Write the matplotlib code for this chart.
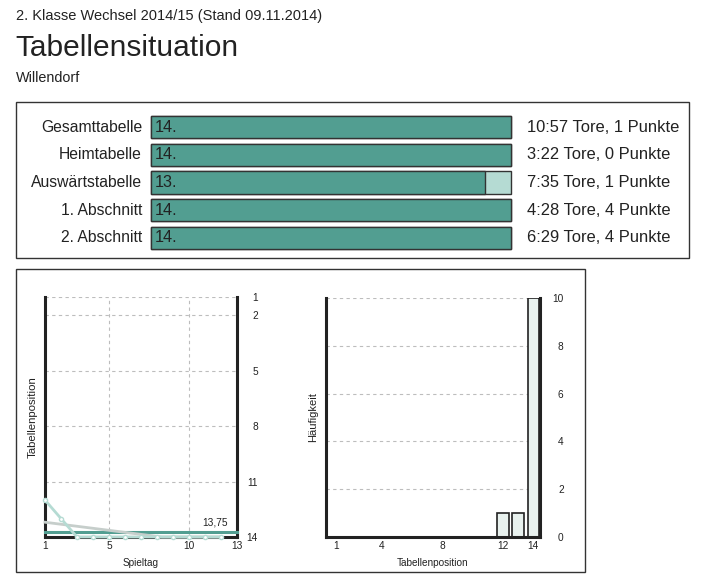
import matplotlib.pyplot as plt
from matplotlib.patches import Rectangle

plt.rcParams["font.family"] = ["Liberation Sans", "DejaVu Sans"]

# =====================================================
# DATA
# =====================================================

header = "2. Klasse Wechsel 2014/15 (Stand 09.11.2014)"
title = "Tabellensituation"
team = "Willendorf"

n_teams = 14
table_names = ["Gesamttabelle", "Heimtabelle", "Auswärtstabelle",
               "1. Abschnitt", "2. Abschnitt"]
table_ranks = [14, 14, 13, 14, 14]
table_goals = ["10:57", "3:22", "7:35", "4:28", "6:29"]
table_points = [1, 0, 1, 4, 4]

spieltage = [1, 2, 3, 4, 5, 6, 7, 8, 9, 10, 11, 12]
positions = [12, 13, 14, 14, 14, 14, 14, 14, 14, 14, 14, 14]
avg_position = 13.75
trend_days = [1, 8.3, 12]
trend_pos = [13.2, 14.0, 14.0]

hist_positions = [12, 13, 14]
hist_counts = [1, 1, 10]
hist_ticks = [1, 4, 8, 12, 14]

# =====================================================
# STYLE
# =====================================================

W, H = 704, 581
TEXT = "#222222"
DARK = "#529E91"
LIGHT = "#B5DBD3"
GREY = "#C6CECB"
GRID = "#BDBDBD"


def fx(px):
    return px / W


def fy(py):
    return 1 - py / H


fig = plt.figure(figsize=(W / 100, H / 100), dpi=100)

fig.text(fx(16), fy(20), header, fontsize=10.5, color=TEXT, va="baseline")
fig.text(fx(15), fy(56), title, fontsize=21.5, color=TEXT, va="baseline")
fig.text(fx(16), fy(82), team, fontsize=10.4, color=TEXT, va="baseline")

# frames
fig.add_artist(Rectangle((fx(16), fy(258)), fx(673), 156 / H,
                         transform=fig.transFigure, fill=False,
                         edgecolor="#333333", linewidth=1))
fig.add_artist(Rectangle((fx(16), fy(572)), fx(569), 303 / H,
                         transform=fig.transFigure, fill=False,
                         edgecolor="#333333", linewidth=1))

# =====================================================
# TABLE BARS
# =====================================================

row_h = 27.75
top = 127 - row_h / 2
axb = fig.add_axes([fx(151), fy(top + 5 * row_h), fx(360), 5 * row_h / H])
rows = list(range(len(table_names)))
back = axb.barh(rows, [n_teams] * len(rows), height=0.8, color=LIGHT,
                edgecolor="#333333", linewidth=1)
front = axb.barh(rows, table_ranks, height=0.8, color=DARK,
                 edgecolor="#333333", linewidth=1)
for patch in list(back) + list(front):
    patch.set_clip_on(False)
axb.set_xlim(0, n_teams)
axb.set_ylim(len(rows) - 0.5, -0.5)
axb.axis("off")

for i, name in enumerate(table_names):
    axb.text(-0.35, i, name, ha="right", va="center", fontsize=11.3,
             color=TEXT)
    axb.text(0.15, i, f"{table_ranks[i]}.", ha="left", va="center",
             fontsize=11.7, color=TEXT)
    axb.text(n_teams + 0.62, i,
             f"{table_goals[i]} Tore, {table_points[i]} Punkte",
             ha="left", va="center", fontsize=11.9, color=TEXT)

# =====================================================
# POSITION TIMELINE
# =====================================================

ax1 = fig.add_axes([fx(45), fy(537), fx(192), 240 / H])
ax1.set_xlim(1, 13)
ax1.set_ylim(14, 1)

for y in [1, 2, 5, 8, 11]:
    ax1.axhline(y, color=GRID, linewidth=0.8, dashes=(3, 3), zorder=0)
for x in [5, 10]:
    ax1.axvline(x, color=GRID, linewidth=0.8, dashes=(3, 3), zorder=0)

ax1.plot([1, 13], [avg_position, avg_position], color=DARK,
         linewidth=2.2, zorder=3, clip_on=False)
ax1.plot(trend_days, trend_pos, color=GREY, linewidth=2, zorder=4,
         clip_on=False)
ax1.plot(spieltage, positions, color=LIGHT, linewidth=2, marker="o",
         markersize=3, markerfacecolor="white", markeredgecolor=LIGHT,
         zorder=5, clip_on=False)
ax1.text(12.4, avg_position - 0.25, f"{avg_position:.2f}".replace(".", ","),
         ha="right", va="bottom", fontsize=7.3, color=TEXT)

ax1.set_xticks([1, 5, 10, 13])
ax1.set_yticks([1, 2, 5, 8, 11, 14])
ax1.yaxis.tick_right()
ax1.tick_params(axis="y", length=0, pad=15, labelsize=7.3, colors=TEXT)
ax1.tick_params(axis="x", length=0, pad=3, labelsize=7.3, colors=TEXT)
for lab in ax1.get_yticklabels():
    lab.set_horizontalalignment("right")
ax1.set_xlabel("Spieltag", fontsize=7.2, color=TEXT, labelpad=5)
ax1.set_ylabel("Tabellenposition", fontsize=8.2, color=TEXT, labelpad=5)
ax1.spines["top"].set_visible(False)
for side in ["left", "right", "bottom"]:
    ax1.spines[side].set_linewidth(2.2)
    ax1.spines[side].set_color(TEXT)

# =====================================================
# POSITION HISTOGRAM
# =====================================================

ax2 = fig.add_axes([fx(326), fy(537), fx(214), 239 / H])
ax2.set_xlim(0.34, 14.44)
ax2.set_ylim(0, 10)
for y in [2, 4, 6, 8, 10]:
    ax2.axhline(y, color=GRID, linewidth=0.8, dashes=(3, 3), zorder=0)
ax2.bar(hist_positions, hist_counts, width=0.76, color="#E8F1EE",
        edgecolor=TEXT, linewidth=1.2, zorder=2)

ax2.set_xticks(hist_ticks)
ax2.set_yticks([0, 2, 4, 6, 8, 10])
ax2.yaxis.tick_right()
ax2.tick_params(axis="y", length=0, pad=17, labelsize=7.3, colors=TEXT)
ax2.tick_params(axis="x", length=0, pad=3, labelsize=7.3, colors=TEXT)
for lab in ax2.get_yticklabels():
    lab.set_horizontalalignment("right")
ax2.set_xlabel("Tabellenposition", fontsize=7.2, color=TEXT, labelpad=5)
ax2.set_ylabel("Häufigkeit", fontsize=8, color=TEXT, labelpad=6)
ax2.spines["top"].set_visible(False)
for side in ["left", "right", "bottom"]:
    ax2.spines[side].set_linewidth(2.2)
    ax2.spines[side].set_color(TEXT)

fig.savefig("out.png", dpi=100)
